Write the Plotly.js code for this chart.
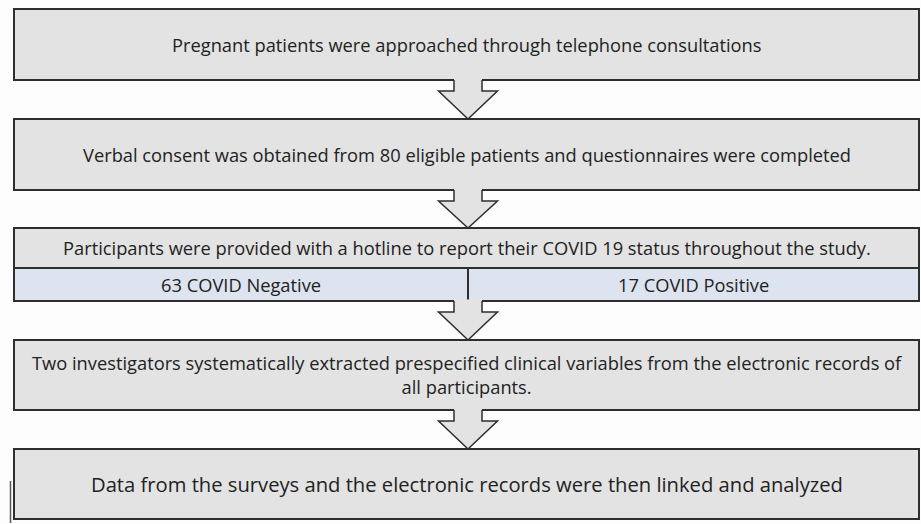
<!DOCTYPE html>
<html>
<head>
<meta charset="utf-8">
<script src="https://cdn.plot.ly/plotly-3.0.1.min.js"></script>
<style>html,body{margin:0;padding:0;background:#fff;}#chart{width:921px;height:524px;}</style>
</head>
<body>
<div id="chart"></div>
<script>
// ---- content ----
const stepTexts = [
  "Pregnant patients were approached through telephone consultations",
  "Verbal consent was obtained from 80 eligible patients and questionnaires were completed",
  "Participants were provided with a hotline to report their COVID 19 status throughout the study.",
  "Two investigators systematically extracted prespecified clinical variables from the electronic records of<br>all participants.",
  "Data from the surveys and the electronic records were then linked and analyzed"
];
const groupLabels = ["63 COVID Negative", "17 COVID Positive"];

// ---- geometry (pixel space via axes) ----
const X0 = 14, X1 = 919, SPLIT_X = 468, SPLIT_Y = 268;
const boxTops = [9, 119, 228, 340, 449];
const boxBottoms = [80, 190, 301, 410, 519];
const textY = [44, 154, 247, 374, 484];
const textSize = [18.3, 18.3, 18.3, 18.3, 20.2];

const FILL = "#e3e3e3", BLUE = "#dde4ef", EDGE = "#2e2e2e";
const shapes = [];
const annotations = [];

boxTops.forEach((t, i) => {
  shapes.push({type: "rect", xref: "x", yref: "y", x0: X0, x1: X1, y0: t, y1: boxBottoms[i],
    fillcolor: FILL, line: {color: EDGE, width: 2}, layer: "below"});
});
// split row
shapes.push({type: "rect", xref: "x", yref: "y", x0: X0, x1: X1, y0: SPLIT_Y, y1: boxBottoms[2],
  fillcolor: BLUE, line: {color: EDGE, width: 2}, layer: "below"});
shapes.push({type: "line", xref: "x", yref: "y", x0: SPLIT_X, x1: SPLIT_X, y0: SPLIT_Y, y1: boxBottoms[2],
  line: {color: EDGE, width: 2}});

// arrows
const AX = 468, SH = 14, HW = 29.5, NECK = 11;
for (let i = 0; i < 4; i++) {
  const a = boxBottoms[i], b = boxTops[i + 1], w = a + NECK;
  const poly = `M${AX - SH},${a - 1.5} L${AX - SH},${w} L${AX - HW},${w} L${AX},${b} L${AX + HW},${w} L${AX + SH},${w} L${AX + SH},${a - 1.5} Z`;
  shapes.push({type: "path", xref: "x", yref: "y", path: poly, fillcolor: FILL, line: {width: 0}});
  const outline = `M${AX - SH},${a} L${AX - SH},${w} L${AX - HW},${w} L${AX},${b} L${AX + HW},${w} L${AX + SH},${w} L${AX + SH},${a}`;
  shapes.push({type: "path", xref: "x", yref: "y", path: outline, line: {color: EDGE, width: 1.5}});
}
// small stray mark at lower left
shapes.push({type: "line", xref: "x", yref: "y", x0: 10.5, x1: 10.5, y0: 481, y1: 523, line: {color: "#555", width: 1.5}});

stepTexts.forEach((t, i) => {
  annotations.push({xref: "x", yref: "y", x: (X0 + X1) / 2, y: textY[i], text: t, showarrow: false,
    font: {family: "Open Sans, sans-serif", size: textSize[i], color: "#222"}, align: "center"});
});
annotations.push({xref: "x", yref: "y", x: (X0 + SPLIT_X) / 2, y: 284, text: groupLabels[0], showarrow: false,
  font: {family: "Open Sans, sans-serif", size: 18.3, color: "#222"}});
annotations.push({xref: "x", yref: "y", x: (SPLIT_X + X1) / 2, y: 284, text: groupLabels[1], showarrow: false,
  font: {family: "Open Sans, sans-serif", size: 18.3, color: "#222"}});

const layout = {
  width: 921, height: 524,
  margin: {l: 0, r: 0, t: 0, b: 0},
  paper_bgcolor: "#fdfdfd", plot_bgcolor: "#fdfdfd",
  xaxis: {range: [0, 921], visible: false, fixedrange: true},
  yaxis: {range: [524, 0], visible: false, fixedrange: true},
  shapes: shapes, annotations: annotations, showlegend: false
};
Plotly.newPlot("chart", [], layout, {staticPlot: true, displayModeBar: false});
</script>
</body>
</html>
